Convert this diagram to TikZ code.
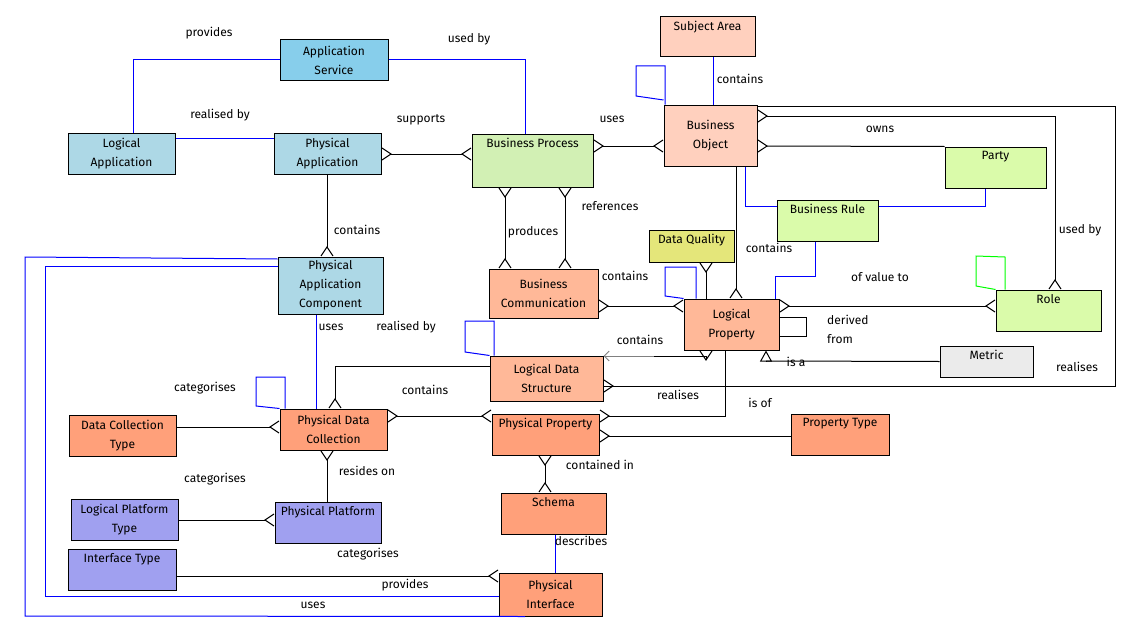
\documentclass[tikz,border=0pt]{standalone}
\usepackage{fontspec}
\setmainfont{Fira Sans}
\usetikzlibrary{arrows.meta}
\definecolor{appblue}{HTML}{ADD8E6}
\definecolor{svcblue}{HTML}{87CEEB}
\definecolor{procgreen}{HTML}{D2F0B4}
\definecolor{limegreen}{HTML}{DAFBAA}
\definecolor{objpink}{HTML}{FFD0BE}
\definecolor{logsalmon}{HTML}{FFB898}
\definecolor{physsalmon}{HTML}{FFA07A}
\definecolor{dqyellow}{HTML}{E4E67A}
\definecolor{platblue}{HTML}{A0A0F0}
\definecolor{metricgrey}{HTML}{EBEBEB}
\tikzset{
    crow/.tip={Straight Barb[reversed,length=9pt,width=12pt,line width=1pt]},
    box/.style={draw=black, line width=1pt, inner sep=0pt, align=center, font=\fontsize{12}{19}\selectfont},
    lab/.style={font=\fontsize{12}{19}\selectfont, inner sep=0pt, align=left},
    rel/.style={draw=black, line width=1pt},
    link/.style={draw=blue, line width=1pt},
}
\newcommand\ent[7]{% name, x1, y1, x2, y2, colour, text
    \node[box, fill=#6, minimum width=#4pt-#2pt, minimum height=#5pt-#3pt] (#1) at ({(#2+#4)/2},{(#3+#5)/2}) {#7};}
\newcommand\tent[7]{% same, text at the top
    \node[box, fill=#6, minimum width=#4pt-#2pt, minimum height=#5pt-#3pt] (#1) at ({(#2+#4)/2},{(#3+#5)/2}) {};
    \node[lab, anchor=north] (#1t) at ({(#2+#4)/2},{#3+4}) {#7};}

\begin{document}
\begin{tikzpicture}[x=1pt, y=-1pt]
    \useasboundingbox[fill=white] (0,0) rectangle (1140,634);

    % entities
    \tent{SA}{660}{17}{755}{57}{objpink}{Subject Area}
    \ent{AS}{280}{40}{388}{80}{svcblue}{Application\\Service}
    \ent{LA}{68}{133}{175}{174}{appblue}{Logical\\Application}
    \ent{PA}{274}{133}{381}{174}{appblue}{Physical\\Application}
    \tent{BP}{472}{134}{593}{187}{procgreen}{Business Process}
    \ent{BO}{664}{105}{757}{166}{objpink}{Business\\Object}
    \tent{PT}{945}{147}{1046}{188}{limegreen}{Party}
    \tent{BR}{777}{200}{878}{241}{limegreen}{Business Rule}
    \tent{DQ}{649}{230}{734}{262}{dqyellow}{Data Quality}
    \ent{PAC}{278}{257}{383}{314}{appblue}{Physical\\Application\\Component}
    \ent{BC}{489}{269}{598}{318}{logsalmon}{Business\\Communication}
    \ent{LP}{684}{299}{779}{350}{logsalmon}{Logical\\Property}
    \tent{RO}{996}{290}{1101}{331}{limegreen}{Role}
    \ent{LDS}{490}{356}{603}{401}{logsalmon}{Logical Data\\Structure}
    \tent{ME}{940}{346}{1033}{377}{metricgrey}{Metric}
    \ent{PDC}{280}{409}{387}{450}{physsalmon}{Physical Data\\Collection}
    \tent{PP}{492}{414}{599}{455}{physsalmon}{Physical Property}
    \ent{DCT}{69}{415}{176}{456}{physsalmon}{Data Collection\\Type}
    \tent{PRT}{791}{414}{889}{455}{physsalmon}{Property Type}
    \tent{SC}{501}{493}{606}{534}{physsalmon}{Schema}
    \ent{LPT}{71}{499}{178}{540}{platblue}{Logical Platform\\Type}
    \tent{PPL}{275}{502}{381}{543}{platblue}{Physical Platform}
    \tent{IT}{68}{549}{176}{590}{platblue}{Interface Type}
    \ent{PI}{499}{573}{602}{616}{physsalmon}{Physical\\Interface}

    % plain links
    \draw[link] (LA.north -| 133,0) |- (AS.west);
    \draw[link] (AS.east) -| (BP.north -| 525,0);
    \draw[link] (LA.east |- 0,138) -- (PA.west |- 0,138);
    \draw[link] (SA.south -| 713,0) -- (BO.north -| 713,0);
    \draw[link] (BO.north -| 665,0) -- (665,66) -- (636,66) -- (636,96) -- (BO.west |- 0,100);
    \draw[link] (BO.south -| 745,0) |- (BR.west |- 0,206);
    \draw[link] (BR.east |- 0,206) -| (PT.south -| 985,0);
    \draw[link] (BR.south -| 815,0) -- (815,276) -- (775,276) -- (LP.north -| 775,0);
    \draw[link] (LP.north -| 696,0) -- (696,267) -- (665,267) -- (665,296) -- (LP.north west);
    \draw[link] (LDS.north -| 494,0) -- (494,321) -- (465,321) -- (465,352) -- (LDS.north west);
    \draw[link] (PDC.north -| 285,0) -- (285,377) -- (256,377) -- (256,406) -- (PDC.north west);
    \draw[link] (PAC.south -| 316,0) -- (PDC.north -| 316,0);
    \draw[link] (SC.south -| 555,0) -- (PI.north -| 555,0);
    \draw[link] (PAC.west |- 0,259) -- (25,257) -- (25,616) -- (PI.south -| 525,0);
    \draw[link] (PAC.west |- 0,266) -- (45,266) -- (45,596) -- (PI.west |- 0,596);
    \draw[draw=green, line width=1pt] (RO.north -| 1005,0) -- (1005,257) -- (976,256) -- (976,286) -- (RO.north west);

    % relationships
    \draw[rel, crow-crow] (PA.east |- 0,154) -- (BP.west |- 0,154);
    \draw[rel, crow-crow] (BP.east |- 0,146) -- (BO.west |- 0,146);
    \draw[rel, -crow] (PA.south -| 327,0) -- (PAC.north -| 327,0);
    \draw[rel, crow-crow] (BP.south -| 505,0) -- (BC.north -| 505,0);
    \draw[rel, crow-crow] (BP.south -| 565,0) -- (BC.north -| 565,0);
    \draw[rel] (BO.east |- 0,106) -- (1115,106) -- (1115,386) -- (603,386);
    \draw[rel, crow-] (LDS.east |- 0,386) -- (650,386);
    \draw[rel, crow-crow] (BO.east |- 0,116) -| (RO.north -| 1055,0);
    \draw[rel, crow-] (BO.east |- 0,146) -- (PT.north west);
    \draw[rel, -crow] (BO.south -| 736,0) -- (LP.north -| 736,0);
    \draw[rel, crow-] (DQ.south -| 706,0) -- (LP.north -| 706,0);
    \draw[rel, crow-crow] (BC.east |- 0,306) -- (LP.west |- 0,306);
    \draw[rel, crow-crow] (LP.east |- 0,306) -- (RO.west |- 0,306);
    \draw[rel] (LP.east |- 0,317) -- (806,317) -- (806,336) -- (LP.east |- 0,336);
    \draw[rel] (ME.west) -- (766,361);
    \draw[rel, -{Triangle[open,length=11pt,width=12pt]}] (766,361) -- (LP.south -| 766,0);
    \draw[rel, -crow] (654,356) -- (706,356) -- (LP.south -| 706,0);
    \draw[draw=gray, line width=1pt, {Straight Barb[length=5pt,width=10pt]}-] (LDS.east |- 0,356) -- (654,356);
    \draw[rel, -crow] (LDS.west |- 0,366) -| (PDC.north -| 335,0);
    \draw[rel, crow-] (PP.east |- 0,416) -| (LP.south -| 725,0);
    \draw[rel, crow-crow] (PDC.east |- 0,416) -- (PP.west |- 0,416);
    \draw[rel, crow-] (PP.east |- 0,436) -- (PRT.west |- 0,436);
    \draw[rel, crow-crow] (PP.south -| 545,0) -- (SC.north -| 545,0);
    \draw[rel, -crow] (DCT.east |- 0,427) -- (PDC.west |- 0,427);
    \draw[rel, crow-] (PDC.south -| 327,0) -- (PPL.north -| 327,0);
    \draw[rel, -crow] (LPT.east |- 0,520) -- (PPL.west |- 0,520);
    \draw[rel, -crow] (IT.east |- 0,576) -- (PI.west |- 0,576);

    % labels
    \node[lab] (lProv) at (209,33) {provides};
    \node[lab] (lUsedBy) at (469,39) {used by};
    \node[lab] (lRealBy) at (220,115) {realised by};
    \node[lab] (lSupp) at (421,120) {supports};
    \node[lab] (lUses) at (612,119) {uses};
    \node[lab] (lCont) at (740,79) {contains};
    \node[lab] (lOwns) at (880,129) {owns};
    \node[lab] (lRef) at (610,206) {references};
    \node[lab] (lProd) at (533,232) {produces};
    \node[lab] (lCont2) at (357,230) {contains};
    \node[lab] (lCont3) at (769,248) {contains};
    \node[lab] (lUsedBy2) at (1080,230) {used by};
    \node[lab] (lCont4) at (625,276) {contains};
    \node[lab] (lValue) at (880,277) {of value to};
    \node[lab, anchor=west] (lDeriv) at (827,329) {derived\\from};
    \node[lab] (lUses2) at (331,327) {uses};
    \node[lab] (lRealBy2) at (406,327) {realised by};
    \node[lab] (lCont5) at (640,340) {contains};
    \node[lab] (lIsA) at (796,362) {is a};
    \node[lab] (lReal) at (1077,367) {realises};
    \node[lab] (lCat) at (205,388) {categorises};
    \node[lab] (lCont6) at (425,390) {contains};
    \node[lab] (lReal2) at (678,395) {realises};
    \node[lab] (lIsOf) at (760,403) {is of};
    \node[lab] (lContIn) at (600,465) {contained in};
    \node[lab] (lResides) at (367,471) {resides on};
    \node[lab] (lCat2) at (215,479) {categorises};
    \node[lab] (lDesc) at (581,541) {describes};
    \node[lab] (lCat3) at (368,554) {categorises};
    \node[lab] (lProv2) at (405,585) {provides};
    \node[lab] (lUses3) at (313,605) {uses};
\end{tikzpicture}
\end{document}
